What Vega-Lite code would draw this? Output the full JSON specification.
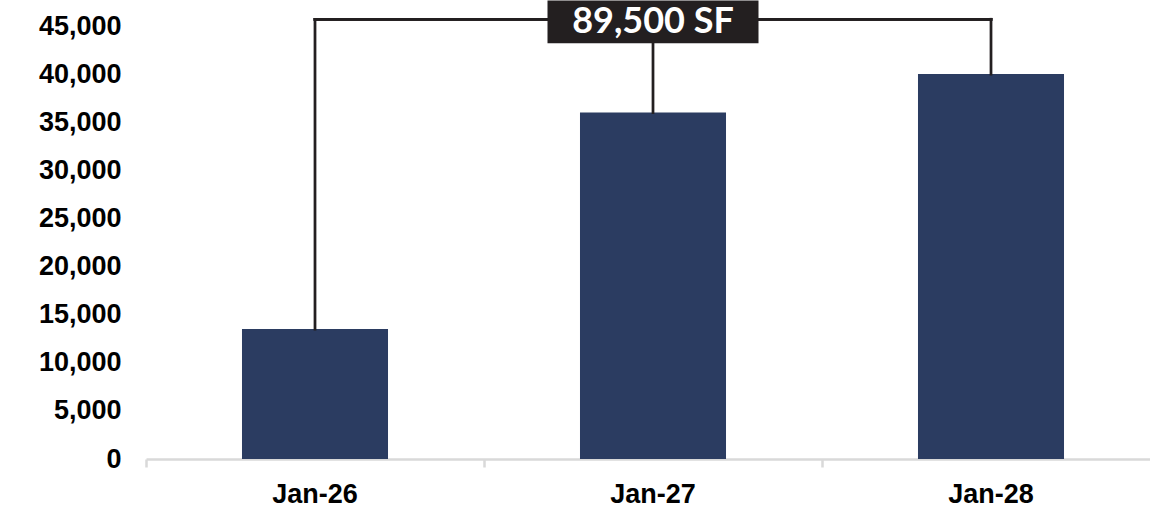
{
  "$schema": "https://vega.github.io/schema/vega-lite/v6.json",
  "autosize": "none",
  "width": 1014,
  "height": 433,
  "padding": {"left": 146, "top": 26, "right": 0, "bottom": 53},
  "background": "#ffffff",
  "config": {"view": {"stroke": null}},
  "data": {
    "values": [
      {"period": "Jan-26", "sf": 13500},
      {"period": "Jan-27", "sf": 36000},
      {"period": "Jan-28", "sf": 40000}
    ]
  },
  "encoding": {
    "x": {
      "field": "period",
      "type": "nominal",
      "sort": null,
      "title": null,
      "scale": {"paddingInner": 0, "paddingOuter": 0},
      "axis": {
        "labelAngle": 0,
        "labelFont": "Liberation Sans",
        "labelFontWeight": "bold",
        "labelFontSize": 27,
        "labelColor": "#000000",
        "labelPadding": 14,
        "bandPosition": 0,
        "domainColor": "#d9d9d9",
        "domainWidth": 2.5,
        "tickColor": "#d9d9d9",
        "tickWidth": 2.5,
        "tickSize": 8,
        "grid": false
      }
    }
  },
  "layer": [
    {
      "mark": {"type": "bar", "color": "#2b3c61", "width": {"band": 0.432}},
      "encoding": {
        "y": {
          "field": "sf",
          "type": "quantitative",
          "title": null,
          "scale": {"domain": [0, 45000], "nice": false},
          "axis": {
            "values": [0, 5000, 10000, 15000, 20000, 25000, 30000, 35000, 40000, 45000],
            "format": ",d",
            "labelFont": "Liberation Sans",
            "labelFontWeight": "bold",
            "labelFontSize": 27,
            "labelColor": "#000000",
            "labelPadding": 25,
            "ticks": false,
            "tickSize": 0,
            "domain": false,
            "grid": false
          }
        }
      }
    },
    {
      "mark": {"type": "rule", "color": "#231f20", "strokeWidth": 2.75, "strokeCap": "square"},
      "encoding": {
        "y": {"field": "sf", "type": "quantitative"},
        "y2": {"datum": 45700}
      }
    },
    {
      "mark": {"type": "rule", "color": "#231f20", "strokeWidth": 2.75, "strokeCap": "square"},
      "encoding": {
        "x": {"datum": "Jan-26"},
        "x2": {"datum": "Jan-28"},
        "y": {"datum": 45700}
      }
    },
    {
      "transform": [
        {"aggregate": [{"op": "sum", "field": "sf", "as": "total"}]},
        {"calculate": "format(datum.total, ',') + ' SF'", "as": "label"}
      ],
      "layer": [
        {
          "mark": {"type": "bar", "color": "#231f20", "width": 211},
          "encoding": {
            "x": {"datum": "Jan-27"},
            "y": {"datum": 43200},
            "y2": {"datum": 47650}
          }
        },
        {
          "mark": {
            "type": "text",
            "color": "#ffffff",
            "font": "Lato",
            "fontWeight": "bold",
            "fontSize": 36,
            "align": "center",
            "baseline": "alphabetic"
          },
          "encoding": {
            "x": {"datum": "Jan-27"},
            "y": {"datum": 44250},
            "text": {"field": "label"}
          }
        }
      ]
    }
  ]
}
